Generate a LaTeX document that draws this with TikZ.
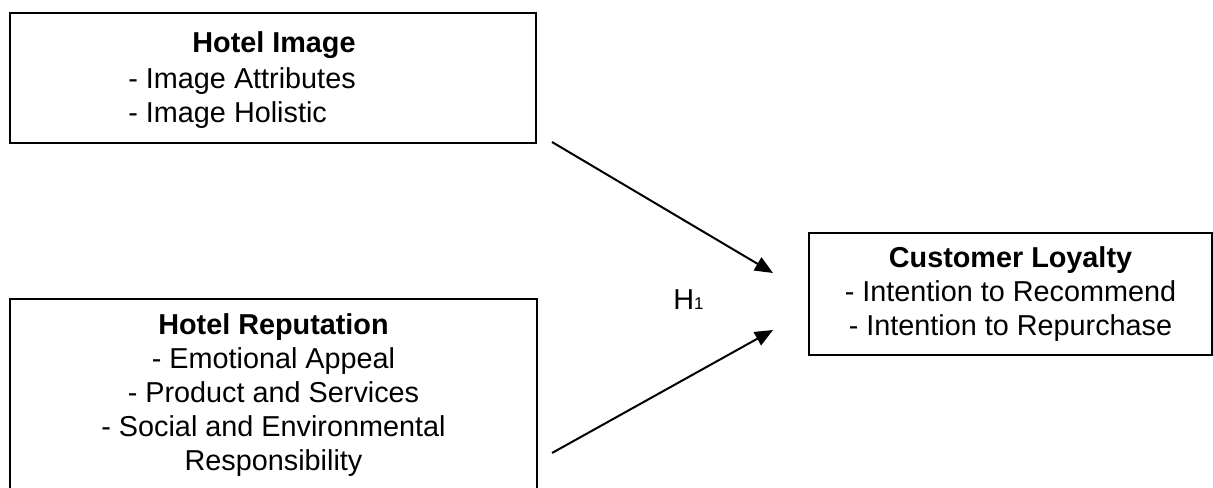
\documentclass[tikz,border=0pt]{standalone}
\usepackage{fontspec}
\setmainfont{Liberation Sans}
\usetikzlibrary{arrows.meta}

\begin{document}
\begin{tikzpicture}[x=0.5pt, y=-0.5pt]
  \tikzset{
    box/.style={draw=black, line width=0.8pt, inner sep=0pt},
    txt/.style={inner sep=0pt, font=\fontsize{14.4}{17}\selectfont},
    head/.style={txt, font=\fontsize{14.4}{17}\selectfont\bfseries},
    link/.style={line width=1pt, -{Triangle[length=9pt, width=7.5pt]}}
  }

  \useasboundingbox (0,0) rectangle (1213,487);

  % Hotel Image
  \node[box, minimum width=263pt, minimum height=65pt] (image) at (273,78) {};
  \node[head, anchor=base] (imagehead) at (274,52) {Hotel Image};
  \node[txt, anchor=base west] (imageattr) at (128,88) {- Image Attributes};
  \node[txt, anchor=base west] (imageholi) at (128,122) {- Image Holistic};

  % Hotel Reputation
  \node[box, txt, align=center, minimum width=263.5pt, minimum height=96.5pt] (reputation) at (273.5,395.5)
    {\textbf{Hotel Reputation}\\- Emotional Appeal\\- Product and Services\\- Social and Environmental\\Responsibility};

  % Customer Loyalty
  \node[box, txt, align=center, minimum width=201.5pt, minimum height=61pt] (loyalty) at (1010.5,294)
    {\textbf{Customer Loyalty}\\- Intention to Recommend\\- Intention to Repurchase};

  % Paths
  \coordinate (imageout) at (552,142);
  \coordinate (reputationout) at (552,453);
  \coordinate (loyaltyin1) at (773,273);
  \coordinate (loyaltyin2) at (773,330);
  \draw[link] (imageout) -- (loyaltyin1);
  \draw[link] (reputationout) -- (loyaltyin2);
  \node[txt, anchor=base west] (hyp) at (673,309) {H{\fontsize{8.5}{9}\selectfont 1}};

\end{tikzpicture}
\end{document}
